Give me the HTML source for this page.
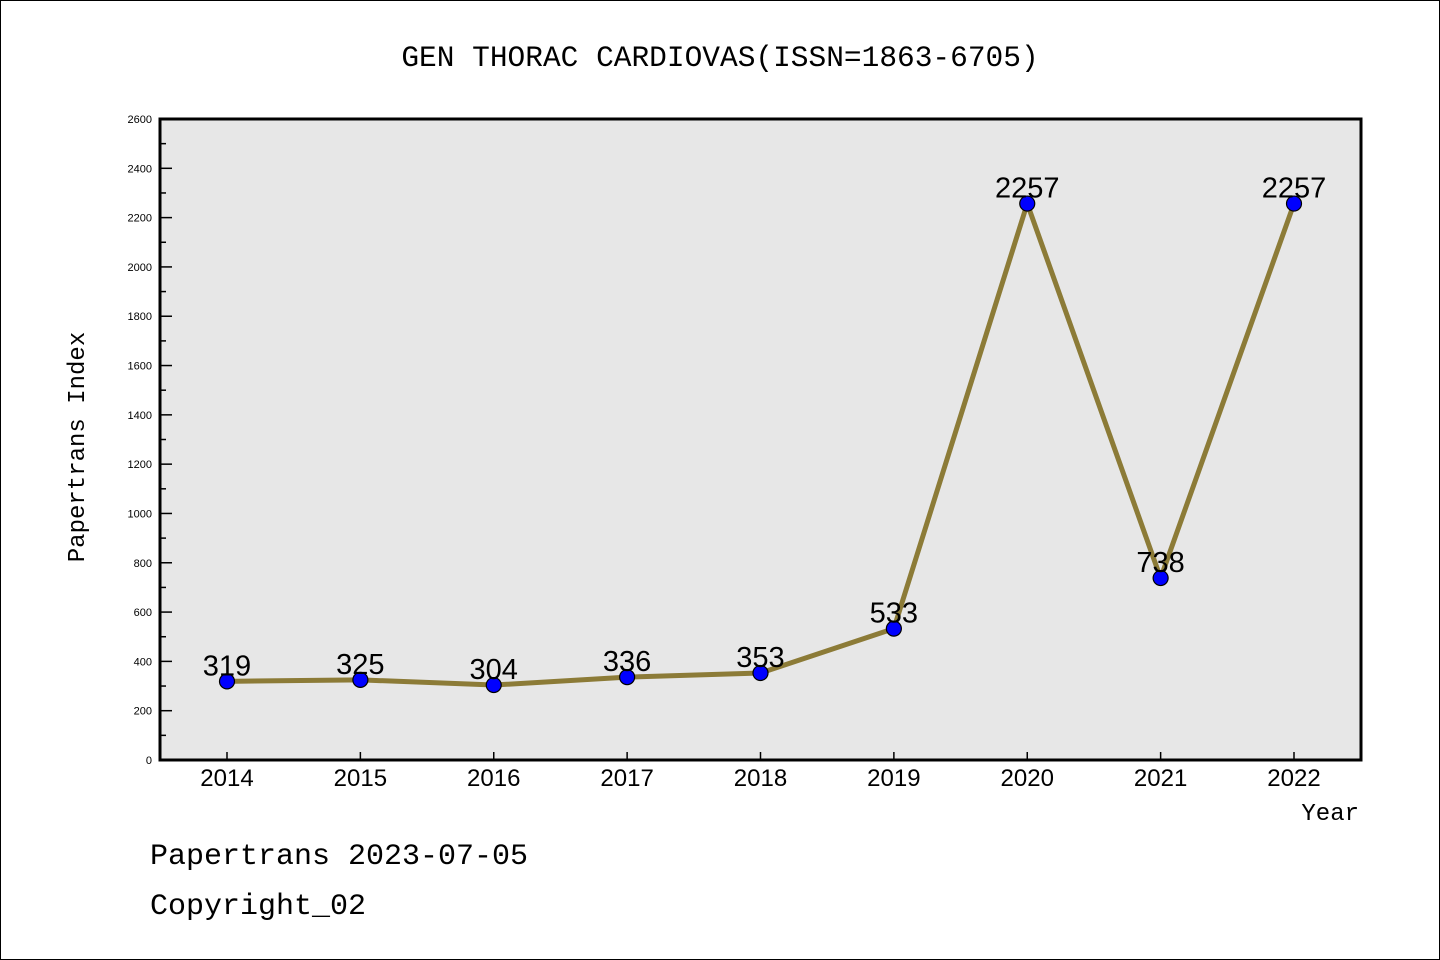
<!DOCTYPE html>
<html><head><meta charset="utf-8"><style>
body{margin:0;background:#fff}
svg{display:block}
</style></head><body>
<svg id="chart" width="1440" height="960" xmlns="http://www.w3.org/2000/svg">
<rect x="0.5" y="0.5" width="1439" height="959" fill="#fff" stroke="#000"/>
<text x="720" y="66" text-anchor="middle" font-family="Liberation Mono, monospace" font-size="29.5">GEN THORAC CARDIOVAS(ISSN=1863-6705)</text>
<rect x="160" y="119" width="1201" height="641" fill="#e7e7e7"/>
<g id="ticks"></g>
<g id="series"></g>
<rect x="160" y="119" width="1201" height="641" fill="none" stroke="#000" stroke-width="3"/>
<text transform="translate(84,447) rotate(-90)" text-anchor="middle" font-family="Liberation Mono, monospace" font-size="24">Papertrans Index</text>
<text x="1359" y="820" text-anchor="end" font-family="Liberation Mono, monospace" font-size="24">Year</text>
<text x="150" y="864" font-family="Liberation Mono, monospace" font-size="30">Papertrans 2023-07-05</text>
<text x="150" y="914" font-family="Liberation Mono, monospace" font-size="30">Copyright_02</text>
</svg>
<script>
const years = ["2014","2015","2016","2017","2018","2019","2020","2021","2022"];
const values = [319,325,304,336,353,533,2257,738,2257];
const yTicks = [0,200,400,600,800,1000,1200,1400,1600,1800,2000,2200,2400,2600];
const NS="http://www.w3.org/2000/svg";
function X(i){return 227+i*(1294-227)/8;}
function Y(v){return 760-v*(641/2600);}
function mk(t,a,p){const e=document.createElementNS(NS,t);for(const k in a)e.setAttribute(k,a[k]);p.appendChild(e);return e;}
const tg=document.getElementById('ticks'), sg=document.getElementById('series');
for(let v=0;v<=2600;v+=100){
  const ln=mk('line',{x1:160,x2:v%200===0?172:166,y1:Y(v),y2:Y(v),stroke:'#000','stroke-width':1.5},tg);
  
  
}
yTicks.forEach(v=>{
  const t=mk('text',{x:152,y:Y(v)+4,'text-anchor':'end','font-family':'Liberation Sans, sans-serif','font-size':11},tg);
  t.textContent=v;
  
  
});
years.forEach((y,i)=>{
  const ln=mk('line',{x1:X(i),x2:X(i),y1:752,y2:760,stroke:'#000','stroke-width':1.5},tg);
  
  
  const t=mk('text',{x:X(i),y:786,'text-anchor':'middle','font-family':'Liberation Sans, sans-serif','font-size':24},tg);
  t.textContent=y;
  
  
});
const pl=mk('polyline',{points:values.map((v,i)=>X(i)+','+Y(v)).join(' '),fill:'none',stroke:'#8c7b37','stroke-width':5,'stroke-linejoin':'round'},sg);


values.forEach((v,i)=>{
  const c=mk('circle',{cx:X(i),cy:Y(v),r:7.5,fill:'#0000ff',stroke:'#000','stroke-width':1.2},sg);
  
  
  const t=mk('text',{x:X(i),y:Y(v)-6,'text-anchor':'middle','font-family':'Liberation Sans, sans-serif','font-size':29},sg);
  t.textContent=v;
  
  
});
</script>
</body></html>
